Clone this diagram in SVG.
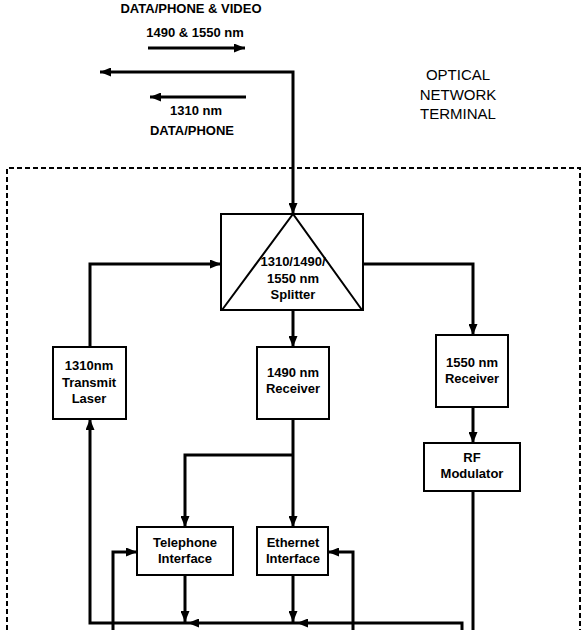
<svg xmlns="http://www.w3.org/2000/svg" width="585" height="630" viewBox="0 0 585 630">
<style>
.box{fill:#fff;stroke:#000;stroke-width:2}
.lbl{font-family:"Liberation Sans",Arial,sans-serif;font-weight:bold;font-size:13px;text-anchor:middle;fill:#000}
.ttl{font-family:"Liberation Sans",Arial,sans-serif;font-size:15px;text-anchor:middle;fill:#000}
.ln{fill:none;stroke:#000;stroke-width:3}
.ar{fill:none;stroke:#000;stroke-width:3;marker-end:url(#ah)}
</style>
<defs>
<marker id="ah" markerUnits="userSpaceOnUse" markerWidth="11" markerHeight="9" refX="11" refY="4.5" orient="auto-start-reverse">
<path d="M0,0 L11,4.5 L0,9 Z" fill="#000"/>
</marker>
</defs>
<rect width="585" height="630" fill="#fff"/>
<path d="M7,630 L7,168 L580,168 L580,630" fill="none" stroke="#000" stroke-width="2" stroke-dasharray="5,3"/>
<g id="labels">
<text class="lbl" x="191" y="13">DATA/PHONE &amp; VIDEO</text>
<text class="lbl" x="195" y="37">1490 &amp; 1550 nm</text>
<text class="lbl" x="196" y="115">1310 nm</text>
<text class="lbl" x="192" y="135">DATA/PHONE</text>
<text class="ttl" x="458" y="80">OPTICAL</text>
<text class="ttl" x="458" y="100">NETWORK</text>
<text class="ttl" x="458" y="119">TERMINAL</text>
</g>
<g id="connectors">
<path class="ar" d="M148,48 L245,48" stroke-width="2.5"/>
<path class="ar" d="M246,97 L150,97" stroke-width="2.5"/>
<path class="ar" d="M100,72 L293,72 L293,214" style="marker-start:url(#ah)"/>
<path class="ar" d="M90,347 L90,264 L221,264"/>
<path class="ar" d="M363,264 L473,264 L473,335"/>
<path class="ar" d="M293,310 L293,347"/>
<path class="ar" d="M473,407 L473,443"/>
<path class="ln" d="M473,491 L473,632"/>
<path class="ar" d="M293,419 L293,527"/>
<path class="ar" d="M293,455 L185,455 L185,527"/>
<path class="ar" d="M113,632 L113,552 L137,552"/>
<path class="ar" d="M353,632 L353,552 L328,552"/>
<path class="ar" d="M185,575 L185,622"/>
<path class="ar" d="M293,575 L293,622"/>
<path class="ar" d="M462,632 L462,623 L297,623"/>
<path class="ar" d="M297,623 L188,623"/>
<path class="ar" d="M188,623 L90,623 L90,419"/>
</g>
<g id="splitter">
<rect class="box" x="221" y="214" width="142" height="96"/>
<path d="M222,310 L293,214 L362,310" fill="none" stroke="#000" stroke-width="2"/>
<text class="lbl" x="293" y="266">1310/1490/</text>
<text class="lbl" x="293" y="283">1550 nm</text>
<text class="lbl" x="293" y="299">Splitter</text>
</g>
<g id="laser">
<rect class="box" x="53" y="347" width="73" height="72"/>
<text class="lbl" x="89" y="370">1310nm</text>
<text class="lbl" x="89" y="387">Transmit</text>
<text class="lbl" x="89" y="403">Laser</text>
</g>
<g id="rx1490">
<rect class="box" x="257" y="347" width="72" height="72"/>
<text class="lbl" x="293" y="377">1490 nm</text>
<text class="lbl" x="293" y="393">Receiver</text>
</g>
<g id="rx1550">
<rect class="box" x="436" y="335" width="72" height="72"/>
<text class="lbl" x="472" y="367">1550 nm</text>
<text class="lbl" x="472" y="383">Receiver</text>
</g>
<g id="rfmod">
<rect class="box" x="424" y="443" width="96" height="48"/>
<text class="lbl" x="472" y="462">RF</text>
<text class="lbl" x="472" y="478">Modulator</text>
</g>
<g id="telephone">
<rect class="box" x="137" y="527" width="96" height="48"/>
<text class="lbl" x="185" y="547">Telephone</text>
<text class="lbl" x="185" y="563">Interface</text>
</g>
<g id="ethernet">
<rect class="box" x="257" y="527" width="71" height="48"/>
<text class="lbl" x="293" y="547">Ethernet</text>
<text class="lbl" x="293" y="563">Interface</text>
</g>
</svg>
